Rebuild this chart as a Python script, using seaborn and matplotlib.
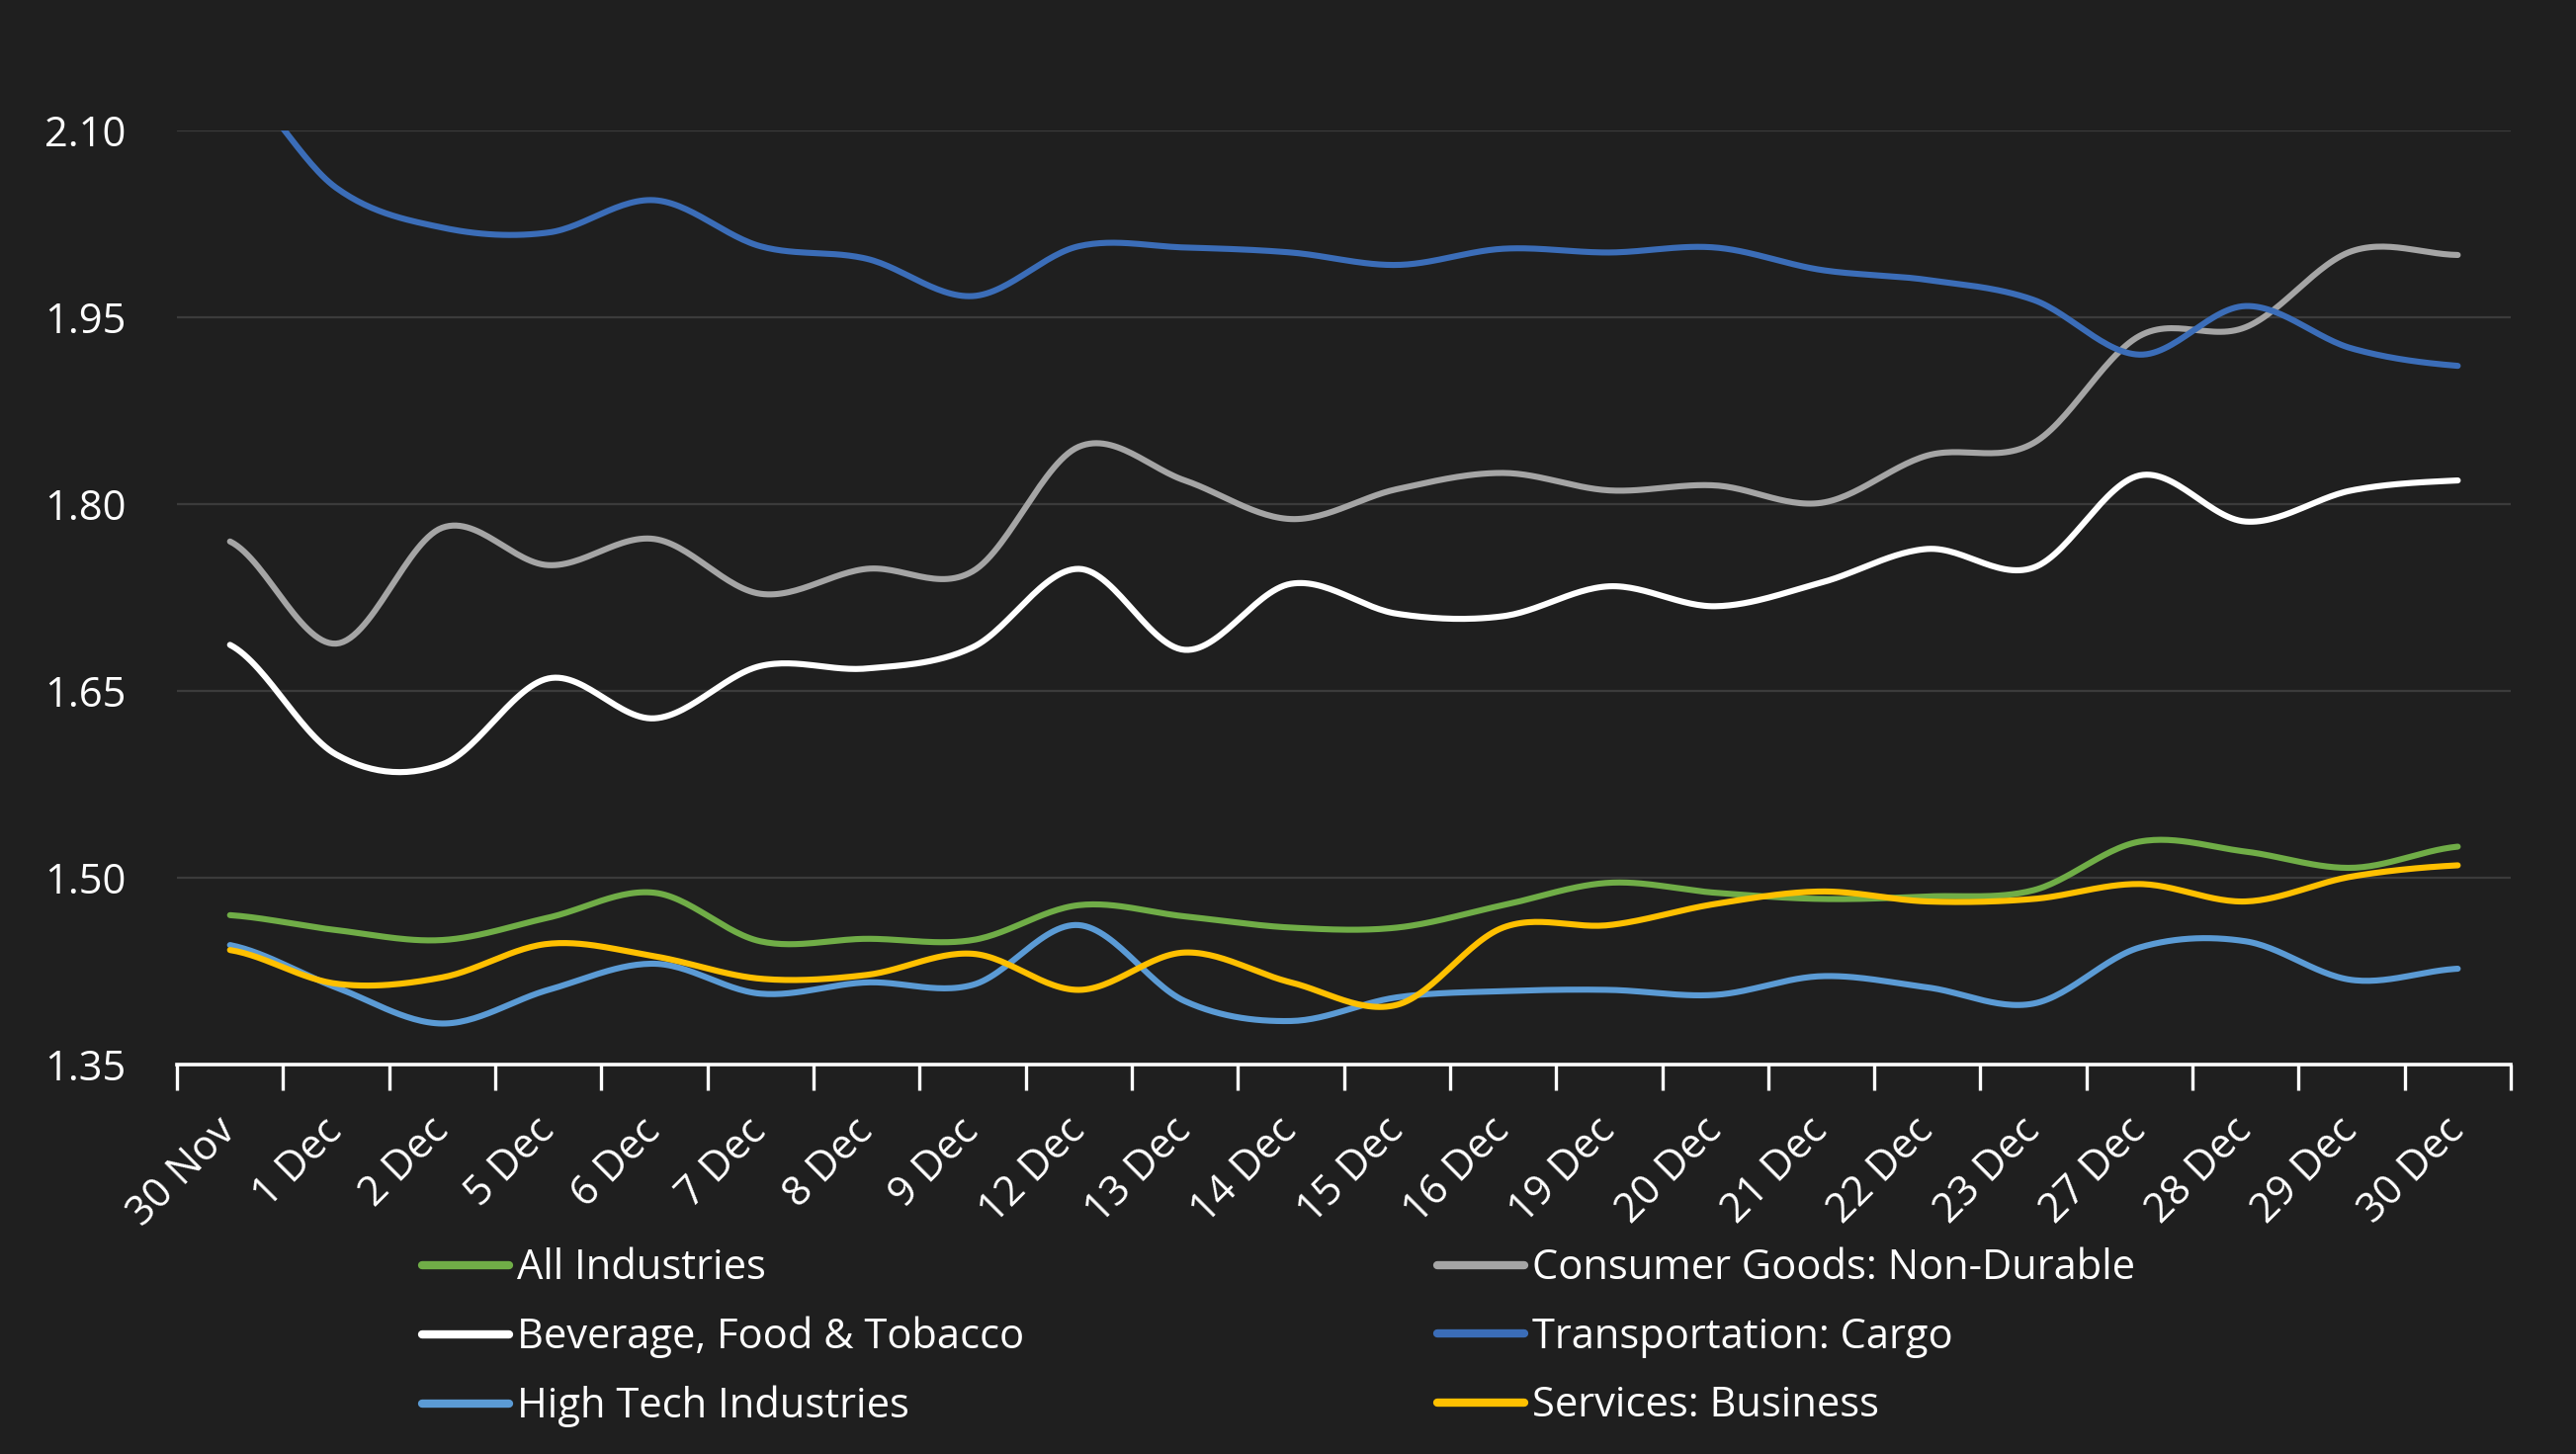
import numpy as np
import pandas as pd
import matplotlib
matplotlib.use("Agg")
import matplotlib.pyplot as plt
import seaborn as sns
from matplotlib.lines import Line2D

# dates on the category axis
dates = ["30 Nov", "1 Dec", "2 Dec", "5 Dec", "6 Dec", "7 Dec", "8 Dec", "9 Dec",
         "12 Dec", "13 Dec", "14 Dec", "15 Dec", "16 Dec", "19 Dec", "20 Dec",
         "21 Dec", "22 Dec", "23 Dec", "27 Dec", "28 Dec", "29 Dec", "30 Dec"]

all_industries = [1.470, 1.458, 1.450, 1.468, 1.488, 1.449, 1.451, 1.450, 1.478, 1.469, 1.460,
                  1.460, 1.478, 1.496, 1.488, 1.483, 1.485, 1.490, 1.529, 1.521, 1.508, 1.525]
consumer_goods = [1.770, 1.688, 1.781, 1.751, 1.772, 1.728, 1.748, 1.746, 1.846, 1.819, 1.788,
                  1.812, 1.825, 1.811, 1.815, 1.801, 1.839, 1.849, 1.935, 1.942, 2.003, 2.000]
beverage = [1.687, 1.599, 1.591, 1.660, 1.628, 1.670, 1.668, 1.685, 1.748, 1.683, 1.736,
            1.712, 1.710, 1.734, 1.718, 1.737, 1.764, 1.749, 1.823, 1.786, 1.811, 1.819]
transport = [2.145, 2.054, 2.022, 2.018, 2.044, 2.007, 1.997, 1.967, 2.007, 2.006, 2.002,
             1.992, 2.005, 2.002, 2.006, 1.988, 1.980, 1.964, 1.920, 1.959, 1.925, 1.911]
high_tech = [1.446, 1.412, 1.383, 1.410, 1.431, 1.407, 1.416, 1.414, 1.462, 1.401, 1.385,
             1.404, 1.409, 1.410, 1.406, 1.421, 1.412, 1.399, 1.444, 1.449, 1.418, 1.427]
services = [1.442, 1.415, 1.420, 1.447, 1.437, 1.419, 1.422, 1.439, 1.410, 1.440, 1.416,
            1.398, 1.460, 1.462, 1.479, 1.489, 1.481, 1.483, 1.495, 1.481, 1.501, 1.510]

series_names = ["All Industries", "Consumer Goods: Non-Durable", "Beverage, Food & Tobacco",
                "Transportation: Cargo", "High Tech Industries", "Services: Business"]
series_vals = [all_industries, consumer_goods, beverage, transport, high_tech, services]
colors = ["#70AD47", "#A5A5A5", "#FFFFFF", "#3B6DB8", "#5B9BD5", "#FFC000"]

yticks = [1.35, 1.50, 1.65, 1.80, 1.95, 2.10]

BG = "#1f1f1f"


def smooth(vals, n=30):
    # catmull-rom style smoothing like excel's smoothed line
    p = np.asarray(vals, dtype=float)
    x = np.arange(len(p), dtype=float)
    pp = np.concatenate([[p[0]], p, [p[-1]]])
    xs, ys = [], []
    t = np.linspace(0, 1, n, endpoint=False)
    for i in range(len(p) - 1):
        p0, p1, p2, p3 = pp[i], pp[i + 1], pp[i + 2], pp[i + 3]
        c1 = p1 + (p2 - p0) / 6
        c2 = p2 - (p3 - p1) / 6
        yy = (1 - t) ** 3 * p1 + 3 * (1 - t) ** 2 * t * c1 + 3 * (1 - t) * t ** 2 * c2 + t ** 3 * p2
        xx = x[i] + t
        xs.append(xx)
        ys.append(yy)
    xs.append([x[-1]])
    ys.append([p[-1]])
    return np.concatenate(xs), np.concatenate(ys)


sns.set_theme(style="dark")
plt.rcParams['font.family'] = ['Open Sans', 'DejaVu Sans']

fig = plt.figure(figsize=(26.06, 14.71), dpi=100, facecolor=BG)
ax = fig.add_axes([0.0687, 0.2678, 0.9060, 0.6425])
ax.set_facecolor(BG)

for name, vals, col in zip(series_names, series_vals, colors):
    sx, sy = smooth(vals)
    df = pd.DataFrame({"x": sx, "y": sy})
    sns.lineplot(data=df, x="x", y="y", ax=ax, color=col, lw=4.4, sort=False,
                 estimator=None, solid_capstyle="round", label=name, legend=False)

ax.set_xlim(-0.5, len(dates) - 0.5)
ax.set_ylim(1.35, 2.10)
ax.set_yticks(yticks)
ax.set_yticklabels([f"{v:.2f}" for v in yticks])
ax.set_xticks(range(len(dates)))
ax.set_xticklabels(dates, rotation=45, ha="right", va="center", rotation_mode="anchor")
ax.set_xticks(np.arange(-0.5, len(dates), 1.0), minor=True)
ax.tick_params(axis="x", which="major", bottom=True, length=0, pad=44, labelsize=30, colors="white")
ax.tick_params(axis="x", which="minor", bottom=True, length=19, width=2.4, color="white",
               direction="out")
ax.tick_params(axis="y", length=0, pad=37, labelsize=30, colors="white")
ax.set_xlabel("")
ax.set_ylabel("")

ax.grid(False)
ax.yaxis.grid(True, color="#3b3b3b", lw=1.6)
ax.xaxis.grid(False)
for s in ["top", "left", "right"]:
    ax.spines[s].set_visible(False)
ax.spines["bottom"].set_color("white")
ax.spines["bottom"].set_linewidth(2.6)
ax.set_axisbelow(True)

# legend: two columns
order_left = [0, 2, 4]
order_right = [1, 3, 5]
for idxs, xpos in [(order_left, 427 / 2606), (order_right, 1454 / 2606)]:
    handles = [Line2D([0], [0], color=colors[i], lw=6, solid_capstyle="round") for i in idxs]
    labels = [series_names[i] for i in idxs]
    leg = fig.legend(handles, labels, loc="upper left", bbox_to_anchor=(xpos, 0.142),
                     frameon=False, fontsize=30, handlelength=2.1, handletextpad=0.2,
                     labelspacing=0.66, borderpad=0, borderaxespad=0)
    for t in leg.get_texts():
        t.set_color("white")

fig.savefig("out.png", dpi=100, facecolor=BG)
